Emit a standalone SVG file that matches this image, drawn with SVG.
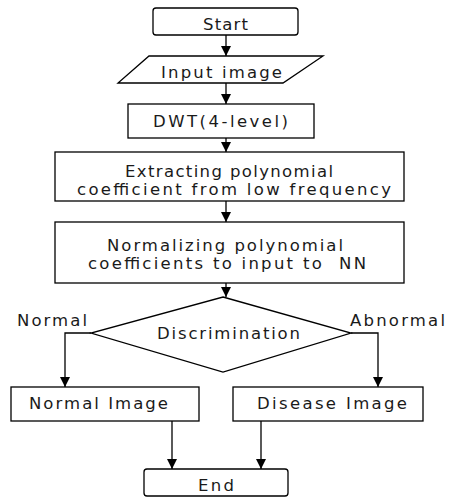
<svg xmlns="http://www.w3.org/2000/svg" width="449" height="500" viewBox="0 0 449 500">
<defs>
<style>
.n{fill:#fff;stroke:#000;stroke-width:1.3}
.c{fill:none;stroke:#000;stroke-width:1.3}
text{font-family:"DejaVu Sans","Liberation Sans",sans-serif;font-size:16.5px;fill:#1a1a1a}
</style>
<marker id="ah" markerUnits="userSpaceOnUse" markerWidth="12" markerHeight="10" refX="10" refY="5" orient="auto">
<path d="M0,0 L10,5 L0,10 Z" fill="#000"/>
</marker>
</defs>
<rect width="449" height="500" fill="#fff"/>
<g id="connectors">
<line class="c" x1="226" y1="35" x2="226" y2="56" marker-end="url(#ah)"/>
<line class="c" x1="226" y1="83" x2="226" y2="104" marker-end="url(#ah)"/>
<line class="c" x1="226" y1="138" x2="226" y2="152" marker-end="url(#ah)"/>
<line class="c" x1="226" y1="201" x2="226" y2="222" marker-end="url(#ah)"/>
<line class="c" x1="226" y1="283" x2="226" y2="297" marker-end="url(#ah)"/>
<polyline class="c" points="91,333 65,333 65,387" marker-end="url(#ah)"/>
<polyline class="c" points="351,333 378,333 378,387" marker-end="url(#ah)"/>
<line class="c" x1="172" y1="421" x2="172" y2="469" marker-end="url(#ah)"/>
<line class="c" x1="261" y1="421" x2="261" y2="469" marker-end="url(#ah)"/>
</g>
<g id="start">
<rect class="n" x="153" y="8" width="145" height="27" rx="3"/>
<text x="203" y="30" textLength="45" lengthAdjust="spacing">Start</text>
</g>
<g id="input">
<polygon class="n" points="149,56 323,56 283,83 118,83"/>
<text x="161" y="78" textLength="121" lengthAdjust="spacing">Input image</text>
</g>
<g id="dwt">
<rect class="n" x="128" y="104" width="186" height="34"/>
<text x="153" y="127" textLength="135" lengthAdjust="spacing">DWT(4-level)</text>
</g>
<g id="extract">
<rect class="n" x="55" y="152" width="349" height="49"/>
<text x="125" y="177" textLength="208" lengthAdjust="spacing">Extracting polynomial</text>
<text x="77" y="195" textLength="314" lengthAdjust="spacing">coefficient from low frequency</text>
</g>
<g id="normalize">
<rect class="n" x="55" y="222" width="349" height="61"/>
<text x="107" y="251" textLength="236" lengthAdjust="spacing">Normalizing polynomial</text>
<text x="88" y="269" textLength="278" lengthAdjust="spacing" xml:space="preserve">coefficients to input to  NN</text>
</g>
<g id="discrimination">
<polygon class="n" points="223,297 351,333 223,372 91,333"/>
<text x="157" y="339" textLength="143" lengthAdjust="spacing">Discrimination</text>
</g>
<g id="labels">
<text x="17" y="326" textLength="70" lengthAdjust="spacing">Normal</text>
<text x="350" y="326" textLength="95" lengthAdjust="spacing">Abnormal</text>
</g>
<g id="normal-image">
<rect class="n" x="11" y="387" width="188" height="34"/>
<text x="29" y="409" textLength="139" lengthAdjust="spacing">Normal Image</text>
</g>
<g id="disease-image">
<rect class="n" x="233" y="387" width="190" height="34"/>
<text x="257" y="409" textLength="150" lengthAdjust="spacing">Disease Image</text>
</g>
<g id="end">
<rect class="n" x="144" y="469" width="144" height="27" rx="3"/>
<text x="198" y="491" textLength="36" lengthAdjust="spacing">End</text>
</g>
</svg>
